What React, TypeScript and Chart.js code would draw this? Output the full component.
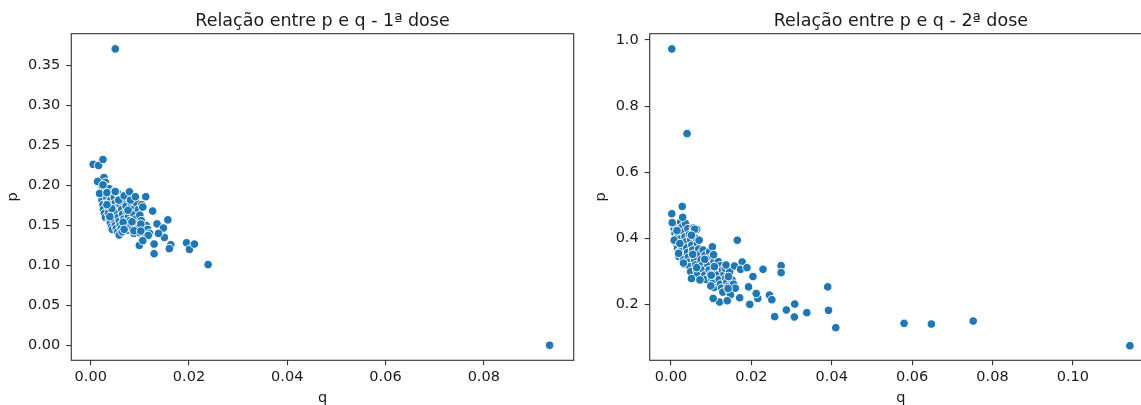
import React, { useEffect, useRef } from 'react';
import { Chart, registerables } from 'chart.js';

Chart.register(...registerables);

// ---------- Data: 1ª dose ----------
const q1: number[] = [
  0.0020, 0.0022, 0.0024, 0.0021, 0.0023, 0.0025, 0.0026, 0.0028, 0.0030,
  0.0027, 0.0030, 0.0032, 0.0031, 0.0033, 0.0034, 0.0036, 0.0036, 0.0038, 0.0040, 0.0042, 0.0044,
  0.0038, 0.0040, 0.0041, 0.0043, 0.0045, 0.0047, 0.0049, 0.0050, 0.0052, 0.0055, 0.0058,
  0.0046, 0.0048, 0.0050, 0.0052, 0.0054, 0.0056, 0.0058, 0.0060, 0.0062, 0.0064,
  0.0055, 0.0058, 0.0060, 0.0063, 0.0065, 0.0067, 0.0070, 0.0072, 0.0075,
  0.0066, 0.0070, 0.0072, 0.0074, 0.0077, 0.0080, 0.0082, 0.0085, 0.0088,
  0.0080, 0.0083, 0.0086, 0.0088, 0.0091, 0.0094, 0.0096, 0.0099,
  0.0093, 0.0097, 0.0100, 0.0103, 0.0106, 0.0108, 0.0111, 0.0113, 0.0116, 0.0120, 0.0104,
  0.0014, 0.0018, 0.0025, 0.0033, 0.0050, 0.0057, 0.0068, 0.0079, 0.0081, 0.0091,
  0.0112, 0.0106, 0.0076, 0.0043, 0.0039, 0.0033, 0.0126, 0.0066, 0.0084, 0.0102,
  0.0068, 0.0088, 0.0102, 0.0135, 0.0157, 0.0148, 0.0117, 0.0150, 0.0138, 0.0099,
  0.0106, 0.0129, 0.0129, 0.0163, 0.0160, 0.0195, 0.0201, 0.0211, 0.0239,
  0.0005, 0.0016, 0.0025, 0.0050, 0.0934,
];
const p1: number[] = [
  0.206, 0.200, 0.195, 0.188, 0.182, 0.176, 0.170, 0.165, 0.160,
  0.210, 0.204, 0.198, 0.190, 0.184, 0.178, 0.172, 0.165, 0.158, 0.153, 0.148, 0.145,
  0.196, 0.189, 0.182, 0.176, 0.168, 0.162, 0.156, 0.150, 0.146, 0.142, 0.138,
  0.192, 0.185, 0.178, 0.172, 0.166, 0.160, 0.155, 0.150, 0.146, 0.142,
  0.190, 0.183, 0.176, 0.170, 0.164, 0.158, 0.152, 0.148, 0.144,
  0.186, 0.180, 0.174, 0.167, 0.161, 0.156, 0.150, 0.145, 0.140,
  0.182, 0.176, 0.170, 0.164, 0.158, 0.152, 0.146, 0.141,
  0.178, 0.170, 0.163, 0.156, 0.149, 0.143, 0.138, 0.150, 0.145, 0.140, 0.176,
  0.205, 0.190, 0.2008, 0.191, 0.1925, 0.1817, 0.187, 0.192, 0.1817, 0.186,
  0.186, 0.173, 0.169, 0.171, 0.161, 0.176, 0.168, 0.154, 0.1546, 0.1517,
  0.145, 0.1433, 0.143, 0.152, 0.157, 0.1467, 0.1375, 0.135, 0.140, 0.125,
  0.131, 0.1267, 0.1146, 0.1258, 0.121, 0.1283, 0.120, 0.1267, 0.101,
  0.2265, 0.225, 0.2325, 0.371, 0.000,
];

// ---------- Data: 2ª dose ----------
const q2: number[] = [
  0.0005, 0.0008, 0.0010, 0.0012, 0.0014, 0.0016, 0.0018, 0.0020,
  0.0012, 0.0016, 0.0019, 0.0022, 0.0025, 0.0027, 0.0029, 0.0031, 0.0033,
  0.0024, 0.0028, 0.0032, 0.0035, 0.0037, 0.0039, 0.0041, 0.0043, 0.0045, 0.0047, 0.0049,
  0.0036, 0.0042, 0.0046, 0.0049, 0.0052, 0.0054, 0.0057, 0.0059, 0.0061, 0.0064, 0.0066,
  0.0056, 0.0060, 0.0063, 0.0066, 0.0069, 0.0072, 0.0075, 0.0078, 0.0081, 0.0084, 0.0087,
  0.0064, 0.0070, 0.0080, 0.0085, 0.0089, 0.0092, 0.0095, 0.0098, 0.0101, 0.0104, 0.0107,
  0.0096, 0.0102, 0.0107, 0.0110, 0.0114, 0.0117, 0.0120, 0.0123, 0.0126, 0.0129,
  0.0118, 0.0124, 0.0128, 0.0132, 0.0136, 0.0139, 0.0142, 0.0145, 0.0148,
  0.0135, 0.0146, 0.0152, 0.0156, 0.0160,
  0.0003, 0.0029, 0.0015, 0.0008, 0.0022, 0.0059, 0.0051, 0.0019, 0.0054, 0.0031,
  0.0064, 0.0051, 0.0072, 0.0084, 0.0103, 0.0106, 0.0108, 0.0100, 0.0099, 0.0121,
  0.0105, 0.0140, 0.0142, 0.0143, 0.0137, 0.0158, 0.0165, 0.0177, 0.0173, 0.0171,
  0.0189, 0.0204, 0.0193, 0.0196, 0.0216, 0.0212, 0.0229, 0.0274, 0.0274, 0.0245,
  0.0251, 0.0258, 0.0287, 0.0307, 0.0308, 0.0338, 0.0390, 0.0392, 0.0410,
  0.0580, 0.0648, 0.0752, 0.1142, 0.0002, 0.0040, 0.0028, 0.0002,
];
const p2: number[] = [
  0.445, 0.430, 0.415, 0.400, 0.385, 0.370, 0.358, 0.345,
  0.440, 0.425, 0.410, 0.398, 0.380, 0.365, 0.350, 0.336, 0.322,
  0.450, 0.435, 0.420, 0.405, 0.390, 0.372, 0.358, 0.343, 0.328, 0.315, 0.300,
  0.445, 0.430, 0.412, 0.396, 0.380, 0.365, 0.350, 0.335, 0.320, 0.305, 0.292,
  0.432, 0.418, 0.400, 0.385, 0.368, 0.352, 0.336, 0.320, 0.305, 0.290, 0.276,
  0.428, 0.395, 0.365, 0.350, 0.335, 0.320, 0.305, 0.292, 0.278, 0.265, 0.252,
  0.360, 0.345, 0.330, 0.316, 0.302, 0.290, 0.276, 0.262, 0.250, 0.238,
  0.330, 0.318, 0.305, 0.292, 0.280, 0.268, 0.255, 0.242, 0.230,
  0.310, 0.300, 0.275, 0.262, 0.250,
  0.448, 0.464, 0.424, 0.395, 0.385, 0.428, 0.410, 0.355, 0.352, 0.326,
  0.312, 0.279, 0.275, 0.337, 0.375, 0.351, 0.315, 0.289, 0.257, 0.208,
  0.219, 0.212, 0.249, 0.285, 0.320, 0.317, 0.395, 0.329, 0.307, 0.221,
  0.312, 0.285, 0.254, 0.201, 0.219, 0.234, 0.307, 0.318, 0.297, 0.229,
  0.215, 0.164, 0.184, 0.163, 0.202, 0.176, 0.254, 0.183, 0.1305,
  0.1436, 0.1416, 0.1506, 0.076, 0.973, 0.717, 0.497, 0.475,
];

// ---------- Tick labels ----------
const xTicks1: number[] = [0, 0.02, 0.04, 0.06, 0.08];
const yTicks1: number[] = [0, 0.05, 0.1, 0.15, 0.2, 0.25, 0.3, 0.35];
const xTicks2: number[] = [0, 0.02, 0.04, 0.06, 0.08, 0.1];
const yTicks2: number[] = [0.2, 0.4, 0.6, 0.8, 1.0];

const title1 = 'Relação entre p e q - 1ª dose';
const title2 = 'Relação entre p e q - 2ª dose';
const xLabel = 'q';
const yLabel = 'p';

const FONT = '"DejaVu Sans", "Liberation Sans", sans-serif';
const TEXT = '#1a1a1a';
const SPINE = '#333333';
const BLUE = '#1f77b4';

type PanelProps = {
  left: number;
  width: number;
  qs: number[];
  ps: number[];
  xTicks: number[];
  yTicks: number[];
  xMin: number;
  xMax: number;
  yMin: number;
  yMax: number;
  xDec: number;
  yDec: number;
  yAxisWidth: number;
  padRight: number;
  title: string;
  pLabelX: number;
};

function Panel(props: PanelProps) {
  const ref = useRef<HTMLCanvasElement | null>(null);

  useEffect(() => {
    if (!ref.current) return;
    const P = props;
    const framePlugin = {
      id: 'frameAndText',
      afterDraw(chart: any) {
        const { ctx, chartArea: a } = chart;
        ctx.save();
        ctx.strokeStyle = SPINE;
        ctx.lineWidth = 1.1;
        ctx.strokeRect(a.left, a.top, a.right - a.left, a.bottom - a.top);
        ctx.fillStyle = TEXT;
        ctx.textAlign = 'center';
        ctx.textBaseline = 'alphabetic';
        ctx.font = `17.5px ${FONT}`;
        ctx.fillText(P.title, (a.left + a.right) / 2, 25.7);
        ctx.font = `14.5px ${FONT}`;
        ctx.fillText(xLabel, (a.left + a.right) / 2, 401.5);
        ctx.translate(P.pLabelX, (a.top + a.bottom) / 2);
        ctx.rotate(-Math.PI / 2);
        ctx.fillText(yLabel, 0, 0);
        ctx.restore();
      },
    };

    const tickFont = { family: FONT, size: 14.5 };
    const chart = new Chart(ref.current, {
      type: 'scatter',
      data: {
        datasets: [
          {
            data: P.qs.map((q, i) => ({ x: q, y: P.ps[i] })),
            backgroundColor: BLUE,
            borderColor: '#ffffff',
            borderWidth: 1,
            pointRadius: 4.3,
            pointHoverRadius: 4.3,
          },
        ],
      },
      options: {
        animation: false,
        responsive: false,
        devicePixelRatio: 1,
        layout: { padding: { top: 33.7, right: P.padRight, bottom: 0, left: 0 } },
        plugins: {
          legend: { display: false },
          tooltip: { enabled: false },
          title: { display: false },
        },
        scales: {
          x: {
            type: 'linear',
            min: P.xMin,
            max: P.xMax,
            afterBuildTicks: (s: any) => {
              s.ticks = P.xTicks.map((v) => ({ value: v }));
            },
            afterFit: (s: any) => {
              s.height = 44.7;
            },
            grid: {
              display: true,
              drawOnChartArea: false,
              drawTicks: true,
              tickLength: 5,
              color: SPINE,
              lineWidth: 1.1,
            },
            border: { display: false },
            ticks: {
              padding: 3,
              color: TEXT,
              font: tickFont,
              maxRotation: 0,
              autoSkip: false,
              callback: (v: any) => Number(v).toFixed(P.xDec),
            },
          },
          y: {
            type: 'linear',
            min: P.yMin,
            max: P.yMax,
            afterBuildTicks: (s: any) => {
              s.ticks = P.yTicks.map((v) => ({ value: v }));
            },
            afterFit: (s: any) => {
              s.width = P.yAxisWidth;
            },
            grid: {
              display: true,
              drawOnChartArea: false,
              drawTicks: true,
              tickLength: 5,
              color: SPINE,
              lineWidth: 1.1,
            },
            border: { display: false },
            ticks: {
              padding: 6,
              color: TEXT,
              font: tickFont,
              autoSkip: false,
              callback: (v: any) => Number(v).toFixed(P.yDec),
            },
          },
        },
      },
      plugins: [framePlugin],
    } as any);
    return () => chart.destroy();
  }, []);

  return (
    <canvas
      ref={ref}
      width={props.width}
      height={405}
      style={{ position: 'absolute', left: props.left, top: 0, width: props.width, height: 405 }}
    />
  );
}

export default function App() {
  return (
    <div
      style={{
        position: 'absolute',
        left: 0,
        top: 0,
        width: 1141,
        height: 405,
        overflow: 'hidden',
        background: '#ffffff',
      }}
    >
      <Panel
        left={0}
        width={580}
        qs={q1}
        ps={p1}
        xTicks={xTicks1}
        yTicks={yTicks1}
        xMin={-0.00395}
        xMax={0.0983}
        yMin={-0.0188}
        yMax={0.39}
        xDec={2}
        yDec={2}
        yAxisWidth={71.3}
        padRight={6.3}
        title={title1}
        pLabelX={17.3}
      />
      <Panel
        left={580}
        width={600}
        qs={q2}
        ps={p2}
        xTicks={xTicks2}
        yTicks={yTicks2}
        xMin={-0.0053}
        xMax={0.1197}
        yMin={0.032}
        yMax={1.019}
        xDec={2}
        yDec={1}
        yAxisWidth={69.7}
        padRight={28}
        title={title2}
        pLabelX={25.3}
      />
    </div>
  );
}
